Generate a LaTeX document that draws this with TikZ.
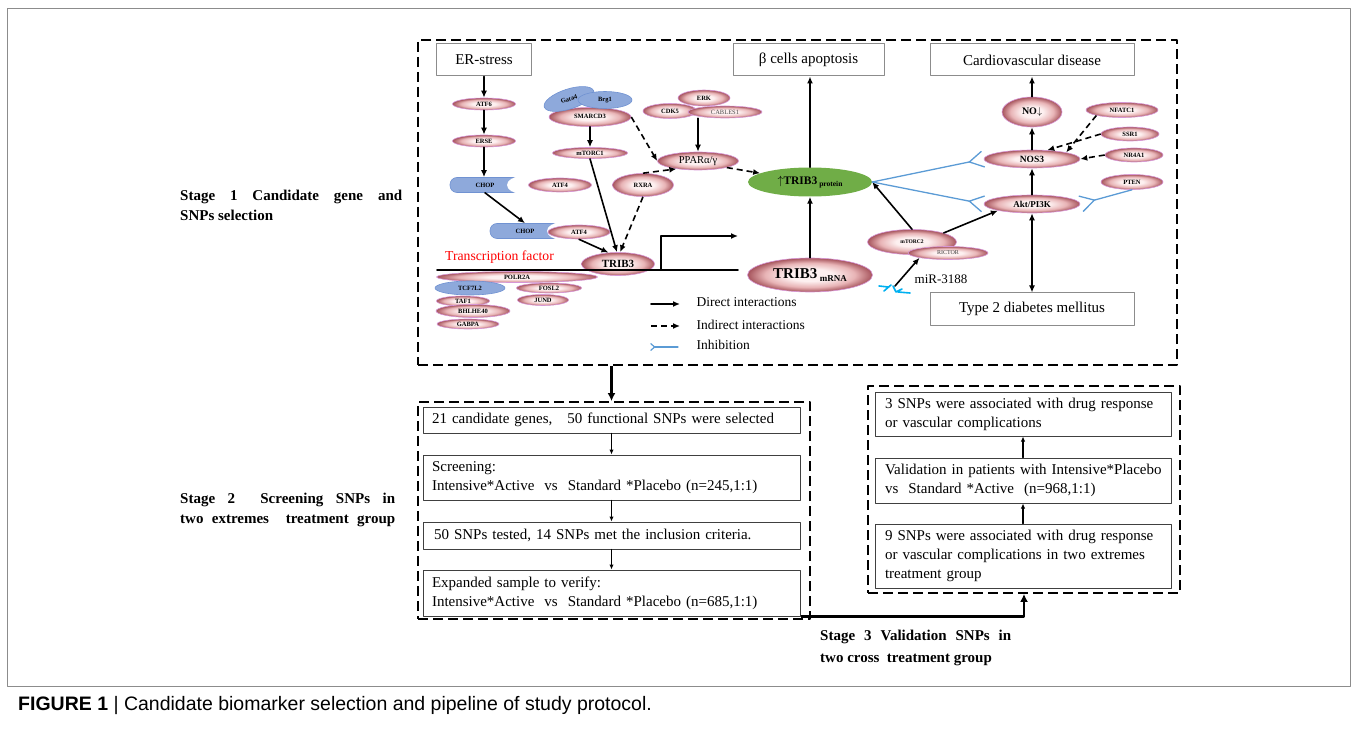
\documentclass[tikz,border=0pt]{standalone}
\usepackage{fontspec}
\setmainfont{Liberation Serif}
\newfontfamily\capfont{Liberation Sans}
\usetikzlibrary{shapes.geometric,arrows.meta,positioning}
\definecolor{genein}{RGB}{253,240,240}
\definecolor{genemid}{RGB}{232,180,182}
\definecolor{geneout}{RGB}{166,84,92}
\definecolor{geneline}{RGB}{214,150,214}
\definecolor{bluefill}{RGB}{142,169,219}
\definecolor{blueline}{RGB}{112,146,210}
\definecolor{greenfill}{RGB}{112,173,71}
\definecolor{inhblue}{RGB}{91,155,213}
\definecolor{mirblue}{RGB}{0,176,240}
\definecolor{boxgray}{RGB}{140,140,140}
\pgfdeclareradialshading{geneshade}{\pgfpoint{0bp}{0bp}}{color(0bp)=(genein); color(9bp)=(genein); color(18bp)=(genemid); color(25bp)=(geneout); color(50bp)=(geneout)}

\begin{document}
\begin{tikzpicture}[x=1pt,y=-1pt,line join=round,line cap=round,>={Latex[length=7pt,width=6pt]},
    gene/.style={ellipse,draw=geneline,line width=0.6pt,shading=geneshade,inner sep=0pt,font=\fontsize{6.5}{7}\selectfont\bfseries},
    bluegene/.style={ellipse,draw=blueline,line width=0.6pt,fill=bluefill,inner sep=0pt,font=\fontsize{6.5}{7}\selectfont\bfseries},
    chop/.style={rectangle,rounded corners=7pt,draw=blueline,line width=0.6pt,fill=bluefill,minimum width=70,minimum height=15,inner sep=0pt,font=\fontsize{6.5}{7}\selectfont\bfseries},
    outcome/.style={draw=boxgray,line width=1pt,minimum height=32,font=\fontsize{15}{18}\selectfont},
    flowbox/.style={draw=black!75,line width=1pt,text width=#1,align=left,inner xsep=9pt,inner ysep=0pt,font=\fontsize{15}{19}\selectfont},
    stagebox/.style={draw=black,line width=1.8pt,dash pattern=on 10pt off 5pt,line cap=butt},
    stagetext/.style={align=left,inner sep=0pt,font=\fontsize{15}{20}\selectfont\bfseries},
    direct/.style={->,line width=1.6pt},
    indirect/.style={->,line width=1.6pt,dash pattern=on 6pt off 4pt,line cap=butt},
    inhib/.style={inhblue,line width=1.3pt,-{Straight Barb[reversed,length=14pt,width=16pt]}},
    flowarrow/.style={line width=1.2pt,-{Latex[length=5pt,width=4.5pt]}},
    bigarrow/.style={line width=2.6pt,line cap=butt,-{Latex[length=8pt,width=8pt]}}]
\useasboundingbox (0,0) rectangle (1357,735);
\draw[boxgray,line width=0.8pt] (7,8) rectangle (1350,686);

% stage frames
\node[stagebox,minimum width=759,minimum height=325] (stageone) at (797.5,202.5) {};
\node[stagebox,minimum width=392,minimum height=217] (stagetwo) at (614,510.5) {};
\node[stagebox,minimum width=312,minimum height=207] (stagethree) at (1024,489.5) {};

% outcomes
\node[outcome,minimum width=95] (erstress) at (484,60) {ER-stress};
\node[outcome,minimum width=151] (betacell) at (808.5,60) {β cells apoptosis};
\node[outcome,minimum width=204] (cardio) at (1032,60) {Cardiovascular disease};
\node[outcome,minimum width=204] (diabetes) at (1032,309) {Type 2 diabetes mellitus};

% ER-stress branch
\node[gene,minimum width=63,minimum height=12] (atfsix) at (484,104) {ATF6};
\node[gene,minimum width=63,minimum height=12] (erse) at (484,141) {ERSE};
\node[chop] (chopa) at (485,185) {CHOP};
\fill[white] (521,185) ellipse (14pt and 8.5pt);
\node[gene,minimum width=63,minimum height=14] (atffoura) at (560,185) {ATF4};
\node[chop] (chopb) at (525,231) {CHOP};
\fill[white] (561,231) ellipse (14pt and 8.5pt);
\node[gene,minimum width=62,minimum height=14] (atffourb) at (579,232) {ATF4};
\node[gene,minimum width=73,minimum height=23,font=\fontsize{11}{12}\selectfont\bfseries] (tribgene) at (618,264) {TRIB3};

% SMARCD3 complex
\node[gene,minimum width=82,minimum height=19] (smarc) at (590,117) {\raisebox{2pt}{SMARCD3}};
\node[bluegene,minimum width=52,minimum height=20,rotate=18] (gata) at (569,99) {Gata4};
\node[bluegene,minimum width=54,minimum height=17] (brg) at (605,100) {Brg1};
\node[gene,minimum width=75,minimum height=11] (mtorcone) at (590,153) {mTORC1};
\node[gene,minimum width=61,minimum height=23] (rxra) at (643,185) {RXRA};

% PPAR branch
\node[gene,minimum width=52,minimum height=16] (erk) at (704,98) {ERK};
\node[gene,minimum width=54,minimum height=15] (cdkfive) at (670,111) {CDK5};
\node[gene,minimum width=74,minimum height=12,font=\fontsize{6.5}{7}\selectfont,text=black!70] (cables) at (725,112) {CABLES1};
\node[gene,minimum width=81,minimum height=18,font=\fontsize{10.5}{12}\selectfont] (ppar) at (698,161) {PPARα/γ};

% TRIB3
\node[ellipse,fill=greenfill,minimum width=124,minimum height=29,inner sep=0pt,font=\fontsize{11.5}{13}\selectfont\bfseries] (tribprot) at (810,182) {$\uparrow$TRIB3\,\raisebox{-2.5pt}{\fontsize{7.5}{8}\selectfont protein}};
\node[gene,minimum width=125,minimum height=34,font=\fontsize{15}{17}\selectfont\bfseries] (tribmrna) at (810,275) {TRIB3\,\raisebox{-3pt}{\fontsize{9}{10}\selectfont mRNA}};

% transcription factors
\node[gene,minimum width=161,minimum height=11] (polr) at (517,277) {POLR2A};
\node[bluegene,minimum width=70,minimum height=14] (tcf) at (470,288) {TCF7L2};
\node[gene,minimum width=65,minimum height=10] (fosl) at (549,288) {FOSL2};
\node[gene,minimum width=51,minimum height=11] (jund) at (543,300) {JUND};
\node[gene,minimum width=53,minimum height=10] (tafone) at (463,301) {TAF1};
\node[gene,minimum width=74,minimum height=13] (bhlhe) at (473,311) {BHLHE40};
\node[gene,minimum width=62,minimum height=10] (gabpa) at (468,324) {GABPA};
\node[text=red,font=\fontsize{13.7}{15}\selectfont] (tflabel) at (499.5,257) {Transcription factor};
\coordinate (lineL) at (437,270);
\coordinate (lineR) at (738,270);
\coordinate (tss) at (661,270);
\coordinate (tssup) at (661,236);
\coordinate (tssend) at (738,236);
\draw[line width=1.6pt] (lineL) -- (lineR);
\draw[direct,line cap=butt] (tss) -- (tssup) -- (tssend);

% right side
\node[gene,minimum width=89,minimum height=25,font=\fontsize{5.5}{6}\selectfont\bfseries] (mtorctwo) at (912,242) {mTORC2};
\node[gene,minimum width=80,minimum height=13,font=\fontsize{6}{7}\selectfont,text=black!75] (rictor) at (948,253) {RICTOR};
\node[font=\fontsize{13}{15}\selectfont] (mirlabel) at (941,279) {miR-3188};
\coordinate (mirseed) at (895,286);
\draw[mirblue,line width=1.6pt] (879,286) -- (888,287) (884,291) -- (891,285) (893,286) -- (896,292) -- (902,289) (898,292) -- (910,293);
\node[gene,minimum width=96,minimum height=18,font=\fontsize{9}{10}\selectfont\bfseries] (akt) at (1032,204) {Akt/PI3K};
\node[gene,minimum width=96,minimum height=18,font=\fontsize{9.5}{10}\selectfont\bfseries] (nosthree) at (1032,159) {NOS3};
\node[gene,minimum width=60,minimum height=30,font=\fontsize{10}{11}\selectfont\bfseries] (nitric) at (1032,112) {NO$\downarrow$};
\node[gene,minimum width=72,minimum height=15] (nfatc) at (1122,110) {NFATC1};
\node[gene,minimum width=58,minimum height=14] (ssrone) at (1130,134) {SSR1};
\node[gene,minimum width=58,minimum height=14] (nrfour) at (1134,155) {NR4A1};
\node[gene,minimum width=62,minimum height=15] (pten) at (1132,182) {PTEN};

% interactions
\draw[direct] (erstress.south) -- (atfsix.north);
\draw[direct] (atfsix.south) -- (erse.north);
\draw[direct] (erse.south) -- (chopa.north -| erse.south);
\draw[direct] (chopa.south) -- (chopb.north);
\draw[direct] (atffourb.south) -- (tribgene.130);
\draw[direct] (smarc.south) -- (mtorcone.north);
\draw[direct] (mtorcone.south) -- (tribgene.95);
\draw[indirect] (smarc.east) -- (ppar.west);
\draw[indirect] (rxra.north) -- (ppar.200);
\draw[indirect] (rxra.south) -- (tribgene.80);
\draw[direct] (ppar.north |- cables.south) -- (ppar.north);
\draw[indirect] (ppar.south east) -- (tribprot.170);
\draw[direct] (tribprot.north) -- (tribprot.north |- betacell.south);
\draw[direct] (tribmrna.north) -- (tribprot.south);
\draw[direct] (mtorctwo.north) -- (tribprot.east);
\draw[direct] (mtorctwo.north east) -- (akt.south west);
\draw[direct] (mirseed) -- (rictor.south west);
\draw[direct] (akt.north) -- (nosthree.south);
\draw[direct] (nosthree.north) -- (nitric.south);
\draw[direct] (nitric.north) -- (cardio.south);
\draw[direct,<->] (akt.south) -- (diabetes.north);
\draw[indirect] (nfatc.south west) -- (nosthree.north east);
\draw[indirect] (ssrone.west) -- (nosthree.30);
\draw[indirect] (nrfour.west) -- (nosthree.east);
\draw[inhib] (tribprot.east) -- (nosthree.west);
\draw[inhib] (tribprot.east) -- (akt.west);
\draw[inhib] (pten.south) -- (akt.east);

% legend
\coordinate (keyaL) at (651,304);
\coordinate (keyaR) at (680,304);
\coordinate (keybL) at (651,326);
\coordinate (keybR) at (680,326);
\coordinate (keycL) at (650,347);
\coordinate (keycR) at (678,347);
\draw[direct] (keyaL) -- (keyaR);
\draw[indirect] (keybL) -- (keybR);
\draw[inhblue,line width=1.2pt,-{Straight Barb[reversed,length=4pt,width=7pt]}] (keycR) -- (keycL);
\node[anchor=west,font=\fontsize{13.5}{15}\selectfont] (keya) at (693,302) {Direct interactions};
\node[anchor=west,font=\fontsize{13.5}{15}\selectfont] (keyb) at (693,325) {Indirect interactions};
\node[anchor=west,font=\fontsize{13.5}{15}\selectfont] (keyc) at (693,345) {Inhibition};

% stage 2 flow
\node[flowbox=359,minimum height=26] (boxa) at (611.5,420) {21 candidate genes,\ \ \ 50 functional SNPs were selected};
\node[flowbox=359,minimum height=45] (boxb) at (611.5,477.5) {Screening:\\\mbox{Intensive*Active\ \ vs\ \ Standard *Placebo (n=245,1:1)}};
\node[flowbox=359,minimum height=27] (boxc) at (611.5,535.5) {\hspace{2pt}50 SNPs tested, 14 SNPs met the inclusion criteria.};
\node[flowbox=359,minimum height=46] (boxd) at (611.5,593) {Expanded sample to verify:\\\mbox{Intensive*Active\ \ vs\ \ Standard *Placebo (n=685,1:1)}};
\draw[flowarrow] (boxa.south) -- (boxb.north);
\draw[flowarrow] (boxb.south) -- (boxc.north);
\draw[flowarrow] (boxc.south) -- (boxd.north);

% stage 3 flow
\node[flowbox=276,inner xsep=10pt,minimum height=44] (boxe) at (1023,414) {\mbox{3 SNPs were associated with drug response}\\or vascular complications};
\node[flowbox=276,inner xsep=10pt,minimum height=45] (boxf) at (1023,480.5) {\mbox{Validation in patients with Intensive*Placebo}\\vs\ \ Standard *Active\ \ (n=968,1:1)};
\node[flowbox=276,inner xsep=10pt,minimum height=64] (boxg) at (1023,556) {\mbox{9 SNPs were associated with drug response}\\\mbox{or vascular complications in two extremes}\\treatment group};
\draw[flowarrow] (boxg.north) -- (boxf.south);
\draw[flowarrow] (boxf.north) -- (boxe.south);

% stage links
\draw[bigarrow] (stageone.south -| boxa.north) -- (stagetwo.north -| boxa.north);
\draw[bigarrow] (boxd.south east) -- (boxd.south east -| stagethree.south) -- (stagethree.south);

% stage labels
\node[stagetext,anchor=west] (stageonelabel) at (180,205) {\makebox[222pt][s]{Stage 1 Candidate gene and}\\SNPs selection};
\node[stagetext,anchor=west] (stagetwolabel) at (180,510) {\makebox[215pt][s]{Stage 2 \ Screening SNPs in}\\\makebox[215pt][s]{two extremes \ treatment group}};
\node[stagetext,anchor=west,font=\fontsize{15}{22}\selectfont\bfseries] (stagethreelabel) at (820,648) {\makebox[191pt][s]{Stage 3 Validation SNPs in}\\two cross \ treatment group};

% caption
\node[anchor=west,inner sep=0pt,font=\capfont\fontsize{19.5}{21}\selectfont] (caption) at (18,705) {\textbf{FIGURE 1} | Candidate biomarker selection and pipeline of study protocol.};
\end{tikzpicture}
\end{document}
